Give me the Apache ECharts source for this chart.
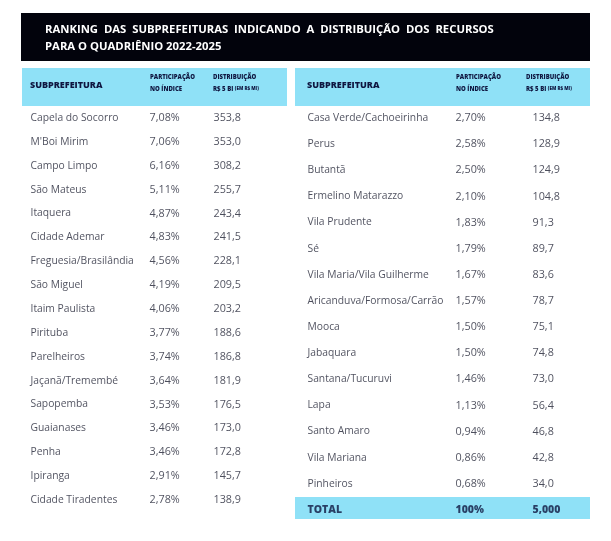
<!DOCTYPE html>
<html>
<head>
<meta charset="utf-8">
<script src="https://cdn.jsdelivr.net/npm/echarts@6/dist/echarts.min.js"></script>
<style>
html,body{margin:0;padding:0;background:#fff;}
#chart{width:611px;height:541px;}
</style>
</head>
<body>
<div id="chart"></div>
<script>
// ---- DATA ----
const titleLines = ['RANKING  DAS  SUBPREFEITURAS  INDICANDO  A  DISTRIBUIÇÃO  DOS  RECURSOS', 'PARA O QUADRIÊNIO 2022-2025'];
const headerName = 'SUBPREFEITURA';
const headerShare = ['PARTICIPAÇÃO', 'NO ÍNDICE'];
const headerAmount = ['DISTRIBUIÇÃO', 'R$ 5 BI', '(EM R$ MI)'];

const leftNames = ['Capela do Socorro', "M'Boi Mirim", 'Campo Limpo', 'São Mateus', 'Itaquera', 'Cidade Ademar',
  'Freguesia/Brasilândia', 'São Miguel', 'Itaim Paulista', 'Pirituba', 'Parelheiros', 'Jaçanã/Tremembé',
  'Sapopemba', 'Guaianases', 'Penha', 'Ipiranga', 'Cidade Tiradentes'];
const leftShare = [7.08, 7.06, 6.16, 5.11, 4.87, 4.83, 4.56, 4.19, 4.06, 3.77, 3.74, 3.64, 3.53, 3.46, 3.46, 2.91, 2.78];
const leftAmount = [353.8, 353.0, 308.2, 255.7, 243.4, 241.5, 228.1, 209.5, 203.2, 188.6, 186.8, 181.9, 176.5, 173.0, 172.8, 145.7, 138.9];

const rightNames = ['Casa Verde/Cachoeirinha', 'Perus', 'Butantã', 'Ermelino Matarazzo', 'Vila Prudente', 'Sé',
  'Vila Maria/Vila Guilherme', 'Aricanduva/Formosa/Carrão', 'Mooca', 'Jabaquara', 'Santana/Tucuruvi', 'Lapa',
  'Santo Amaro', 'Vila Mariana', 'Pinheiros'];
const rightShare = [2.70, 2.58, 2.50, 2.10, 1.83, 1.79, 1.67, 1.57, 1.50, 1.50, 1.46, 1.13, 0.94, 0.86, 0.68];
const rightAmount = [134.8, 128.9, 124.9, 104.8, 91.3, 89.7, 83.6, 78.7, 75.1, 74.8, 73.0, 56.4, 46.8, 42.8, 34.0];

const totalLabel = 'TOTAL';
const totalShare = '100%';
const totalAmount = '5,000';

// ---- LAYOUT / STYLE ----
const fmtShare = v => v.toFixed(2).replace('.', ',') + '%';
const fmtAmount = v => v.toFixed(1).replace('.', ',');
const ROW_FONT = '"Open Sans", sans-serif';
const HEAD_FONT = '"Open Sans", sans-serif';
const NAVY = '#0f1640';
const ROW_COLOR = '#1f2233';
const BAND = '#8fe1f7';

const L = {left: 22, top: 106, width: 265, height: 406, cols: [8, 127, 191]};
const R = {left: 295, top: 105, width: 295, height: 418, cols: [12, 160, 237]};

const rightRows = rightNames.concat([totalLabel]);

function colSeries(gridIdx, col, texts, fontSize, bold) {
  return {
    type: 'scatter',
    xAxisIndex: gridIdx, yAxisIndex: gridIdx,
    symbolSize: 1,
    itemStyle: {color: 'rgba(0,0,0,0)'},
    silent: true,
    z: 5,
    data: texts.map((t, i) => ({value: [col, i], text: t, bold: bold ? bold(i) : false})),
    label: {
      show: true, position: 'right', distance: 0,
      formatter: p => p.data.bold ? '{b|' + p.data.text + '}' : p.data.text,
      fontFamily: ROW_FONT, fontSize: fontSize, color: ROW_COLOR,
      rich: {b: {fontFamily: HEAD_FONT, fontWeight: 900, fontSize: 10.5, color: NAVY}}
    }
  };
}

const isTotal = i => i === rightNames.length;

const rShare = rightShare.map(fmtShare).concat([totalShare]);
const rAmount = rightAmount.map(fmtAmount).concat([totalAmount]);

function headerTexts(g) {
  const x0 = g.left;
  return [
    {type: 'text', left: x0 + g.cols[0], top: 81, style: {text: headerName, font: '900 9px ' + HEAD_FONT, fill: NAVY}},
    {type: 'text', left: x0 + g.cols[1] + 1, top: 74, style: {text: headerShare[0], font: '900 6px ' + HEAD_FONT, fill: NAVY}},
    {type: 'text', left: x0 + g.cols[1] + 1, top: 86, style: {text: headerShare[1], font: '900 6px ' + HEAD_FONT, fill: NAVY}},
    {type: 'text', left: x0 + g.cols[2] - (g === R ? 6 : 0), top: 74, style: {text: headerAmount[0], font: '900 6px ' + HEAD_FONT, fill: NAVY}},
    {type: 'text', left: x0 + g.cols[2] - (g === R ? 6 : 0), top: 86, style: {
      text: '{a|' + headerAmount[1] + ' }{s|' + headerAmount[2] + '}',
      rich: {a: {font: '900 6px ' + HEAD_FONT, fill: NAVY}, s: {font: '900 4.5px ' + HEAD_FONT, fill: NAVY}}
    }}
  ];
}

const chart = echarts.init(document.getElementById('chart'));
chart.setOption({
  animation: false,
  backgroundColor: '#ffffff',
  grid: [
    {left: L.left, top: L.top, width: L.width, height: L.height},
    {left: R.left, top: R.top, width: R.width, height: R.height}
  ],
  xAxis: [
    {gridIndex: 0, type: 'value', min: 0, max: L.width, show: false},
    {gridIndex: 1, type: 'value', min: 0, max: R.width, show: false}
  ],
  yAxis: [
    {gridIndex: 0, type: 'category', inverse: true, data: leftNames, show: false},
    {gridIndex: 1, type: 'category', inverse: true, data: rightRows, show: false}
  ],
  graphic: [
    {type: 'rect', shape: {x: 21, y: 13, width: 569, height: 48}, style: {fill: '#02030c'}, z: -10},
    {type: 'text', left: 45, top: 24, style: {text: titleLines[0], font: 'bold 11.3px ' + HEAD_FONT, fill: '#ffffff'}},
    {type: 'text', left: 45, top: 41, style: {text: titleLines[1], font: 'bold 11.3px ' + HEAD_FONT, fill: '#ffffff'}},
    {type: 'rect', shape: {x: L.left, y: 68, width: L.width, height: 38}, style: {fill: BAND}, z: -10},
    {type: 'rect', shape: {x: R.left, y: 68, width: R.width, height: 38}, style: {fill: BAND}, z: -10},
    {type: 'rect', shape: {x: R.left, y: 497, width: R.width, height: 22}, style: {fill: BAND}, z: -10}
  ].concat(headerTexts(L), headerTexts(R)),
  series: [
    colSeries(0, L.cols[0], leftNames, 10.3),
    colSeries(0, L.cols[1], leftShare.map(fmtShare), 10.8),
    colSeries(0, L.cols[2], leftAmount.map(fmtAmount), 10.8),
    colSeries(1, R.cols[0], rightRows, 10.3, isTotal),
    colSeries(1, R.cols[1], rShare, 10.8, isTotal),
    colSeries(1, R.cols[2], rAmount, 10.8, isTotal)
  ]
});
</script>
</body>
</html>
